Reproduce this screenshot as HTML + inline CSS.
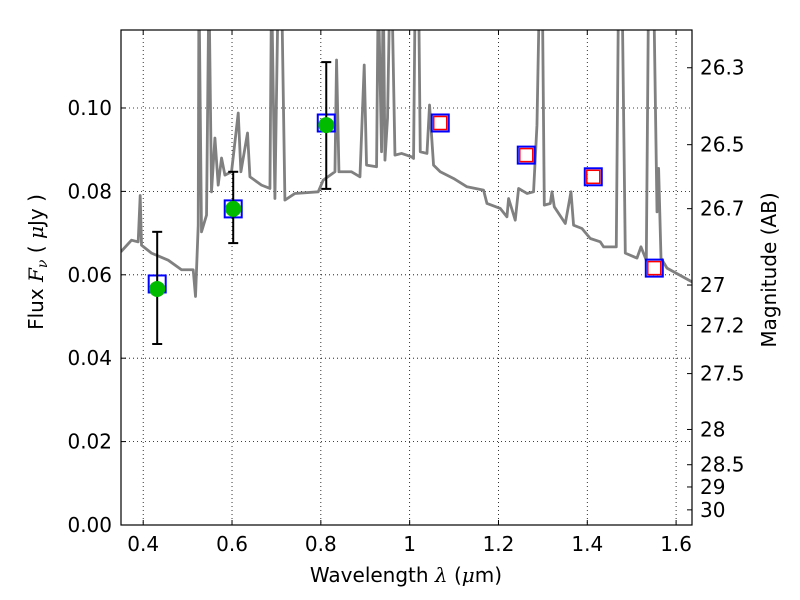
<!DOCTYPE html>
<html><head><meta charset="utf-8"><style>
body{margin:0;background:#fff;}
svg{display:block;font-family:"DejaVu Sans","Liberation Sans",sans-serif;}
</style></head><body>
<svg id="chart" width="800" height="600" viewBox="0 0 800 600" xmlns="http://www.w3.org/2000/svg"></svg>
<script>
const specWl=[0.3498,0.3736,0.3887,0.3932,0.3962,0.4187,0.4563,0.4863,0.5126,0.5178,0.5239,0.5255,0.5313,0.5426,0.5480,0.5538,0.5615,0.5689,0.5764,0.5840,0.5989,0.6140,0.6200,0.6349,0.6403,0.6664,0.6854,0.6890,0.6966,0.7041,0.7115,0.7191,0.7417,0.7941,0.8054,0.8318,0.8354,0.8408,0.8691,0.8881,0.8977,0.9029,0.9255,0.9293,0.9367,0.9405,0.9444,0.9502,0.9556,0.9597,0.9669,0.9818,1.0043,1.0088,1.0126,1.0200,1.0239,1.0390,1.0448,1.0538,1.0689,1.0989,1.1291,1.1664,1.1741,1.2041,1.2191,1.2228,1.2378,1.2453,1.2642,1.2790,1.2867,1.2926,1.2986,1.3032,1.3167,1.3205,1.3257,1.3505,1.3633,1.3691,1.3880,1.4068,1.4293,1.4367,1.4653,1.4705,1.4782,1.4856,1.5119,1.5209,1.5329,1.5381,1.5493,1.5570,1.5606,1.5660,1.5795,1.6358];
const specFlux=[0.0655,0.0683,0.0679,0.0790,0.0671,0.0652,0.0635,0.0612,0.0612,0.0548,0.0719,0.13,0.0703,0.0743,0.13,0.0799,0.0928,0.0815,0.0880,0.0839,0.0847,0.0988,0.0847,0.0940,0.0835,0.0815,0.0807,0.13,0.0783,0.13,0.13,0.0779,0.0795,0.0799,0.0827,0.0847,0.1115,0.0847,0.0847,0.0835,0.1103,0.0863,0.0859,0.13,0.0895,0.13,0.0875,0.0976,0.13,0.13,0.0887,0.0891,0.0883,0.0879,0.13,0.13,0.0895,0.0891,0.1007,0.0863,0.0847,0.0831,0.0811,0.0803,0.0771,0.0759,0.0739,0.0783,0.0731,0.0807,0.0795,0.0799,0.0959,0.13,0.13,0.0767,0.0771,0.0799,0.0763,0.0723,0.0799,0.0719,0.0711,0.0687,0.0679,0.0667,0.0667,0.13,0.13,0.0652,0.0640,0.0667,0.0635,0.13,0.13,0.0751,0.0855,0.0640,0.0616,0.0583];
const obsWl=[0.4315,0.6027,0.8122];
const obsFlux=[0.0566,0.0758,0.0959];
const obsHi=[0.0703,0.0847,0.1110];
const obsLo=[0.0434,0.0676,0.0806];
const modelWl=[0.4315,0.6027,0.8122,1.0689,1.2626,1.4135,1.5509];
const modelFlux=[0.0578,0.0758,0.0964,0.0964,0.0887,0.0835,0.0616];
const predWl=[1.0689,1.2626,1.4135,1.5509];
const predFlux=[0.0964,0.0887,0.0835,0.0616];
const xTicks=[0.4,0.6,0.8,1.0,1.2,1.4,1.6];
const xTickLabels=["0.4","0.6","0.8","1","1.2","1.4","1.6"];
const yTicks=[0,0.02,0.04,0.06,0.08,0.10];
const yTickLabels=["0.00","0.02","0.04","0.06","0.08","0.10"];
const magTicks=[26.3,26.5,26.7,27,27.2,27.5,28,28.5,29,30];
const magTickLabels=["26.3","26.5","26.7","27","27.2","27.5","28","28.5","29","30"];

const L=121,R=692,T=30,B=525;
const X0=0.35,X1=1.6358,Y0=0,Y1=0.1187;
const sx=v=>L+(v-X0)/(X1-X0)*(R-L);
const sy=v=>B-(v-Y0)/(Y1-Y0)*(B-T);
const svg=document.getElementById('chart');
const NS='http://www.w3.org/2000/svg';
function mk(tag,attrs,parent){const e=document.createElementNS(NS,tag);for(const k in attrs)e.setAttribute(k,attrs[k]);(parent||svg).appendChild(e);return e;}

const defs=mk('defs',{});
const cp=mk('clipPath',{id:'clip'},defs);mk('rect',{x:L,y:T,width:R-L,height:B-T},cp);

xTicks.forEach((t,i)=>{
  const g=mk('line',{x1:sx(t),x2:sx(t),y1:T,y2:B,stroke:'#000','stroke-width':0.8,'stroke-dasharray':'1,3'});
  
  
  mk('line',{x1:sx(t),x2:sx(t),y1:B,y2:B-5,stroke:'#000'});
  mk('line',{x1:sx(t),x2:sx(t),y1:T,y2:T+5,stroke:'#000'});
  const tx=mk('text',{x:sx(t),y:B+26,'text-anchor':'middle','font-size':20});
  tx.textContent=xTickLabels[i];
  
  
});
yTicks.forEach((t,i)=>{
  const g=mk('line',{x1:L,x2:R,y1:sy(t),y2:sy(t),stroke:'#000','stroke-width':0.8,'stroke-dasharray':'1,3'});
  
  
  mk('line',{x1:L,x2:L+5,y1:sy(t),y2:sy(t),stroke:'#000'});
  const tx=mk('text',{x:L-9,y:sy(t)+7,'text-anchor':'end','font-size':20});
  tx.textContent=yTickLabels[i];
  
  
});
magTicks.forEach((m,i)=>{
  const y=sy(Math.pow(10,(23.9-m)/2.5));
  mk('line',{x1:R,x2:R-5,y1:y,y2:y,stroke:'#000'});
  const tx=mk('text',{x:R+8,y:y+7,'text-anchor':'start','font-size':20});
  tx.textContent=magTickLabels[i];
  
  
});

const pg=mk('g',{'clip-path':'url(#clip)'});
const sp=mk('polyline',{points:specWl.map((w,i)=>sx(w)+','+sy(specFlux[i])).join(' '),fill:'none',stroke:'#808080','stroke-width':2.8,'stroke-linejoin':'round'},pg);



modelWl.forEach((w,i)=>{
  const r=mk('rect',{x:sx(w)-8.5,y:sy(modelFlux[i])-8.5,width:17,height:17,fill:'none',stroke:'#0000ff','stroke-width':2},pg);
  
  
});
predWl.forEach((w,i)=>{
  const r=mk('rect',{x:sx(w)-6.5,y:sy(predFlux[i])-6.5,width:13,height:13,fill:'none',stroke:'#ff0000','stroke-width':1.5},pg);
  
  
});
obsWl.forEach((w,i)=>{
  const x=sx(w);
  const e=mk('g',{stroke:'#000','stroke-width':2},pg);
  
  
  mk('line',{x1:x,x2:x,y1:sy(obsHi[i]),y2:sy(obsLo[i])},e);
  mk('line',{x1:x-5,x2:x+5,y1:sy(obsHi[i]),y2:sy(obsHi[i])},e);
  mk('line',{x1:x-5,x2:x+5,y1:sy(obsLo[i]),y2:sy(obsLo[i])},e);
  const c=mk('circle',{cx:x,cy:sy(obsFlux[i]),r:8,fill:'#00bb00'},pg);
  
  
});

const fr=mk('rect',{x:L,y:T,width:R-L,height:B-T,fill:'none',stroke:'#000','stroke-width':1.2});


</script>
<svg style="position:absolute;left:0;top:0" width="800" height="600">
<text x="406" y="582" text-anchor="middle" font-size="20" font-family="DejaVu Sans, Liberation Sans, sans-serif">Wavelength  <tspan font-style="italic" font-family="DejaVu Serif, Liberation Serif, serif">λ</tspan> (<tspan font-style="italic" font-family="DejaVu Serif, Liberation Serif, serif">μ</tspan>m)</text>
<text transform="translate(43,262) rotate(-90)" text-anchor="middle" font-size="20" font-family="DejaVu Sans, Liberation Sans, sans-serif">Flux  <tspan font-style="italic" font-family="DejaVu Serif, Liberation Serif, serif">F<tspan font-size="14" dy="4">ν</tspan></tspan><tspan dy="-4">  (  </tspan><tspan font-style="italic" font-family="DejaVu Serif, Liberation Serif, serif">μ</tspan>Jy )</text>
<text transform="translate(776,270) rotate(-90)" text-anchor="middle" font-size="20" font-family="DejaVu Sans, Liberation Sans, sans-serif">Magnitude (AB)</text>
</svg>
</body></html>
